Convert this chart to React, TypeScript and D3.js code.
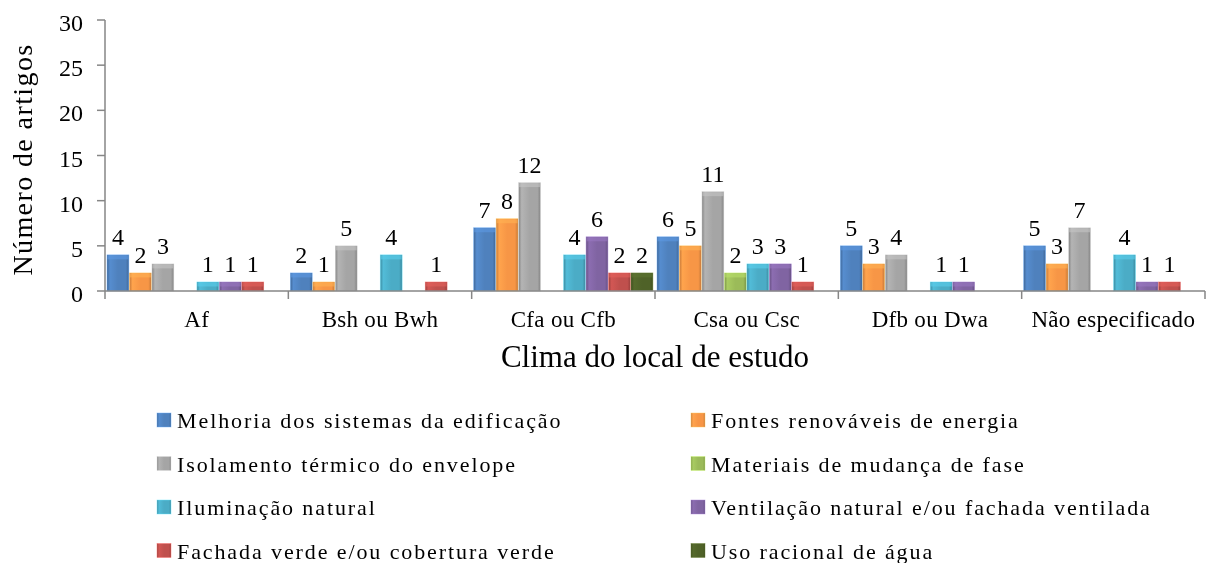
import React from "react";
import * as d3 from "d3";

const categories = ["Af", "Bsh ou Bwh", "Cfa ou Cfb", "Csa ou Csc", "Dfb ou Dwa", "Não especificado"];
const seriesNames = [
  "Melhoria dos sistemas da edificação",
  "Fontes renováveis de energia",
  "Isolamento térmico do envelope",
  "Materiais de mudança de fase",
  "Iluminação natural",
  "Ventilação natural e/ou fachada ventilada",
  "Fachada verde e/ou cobertura verde",
  "Uso racional de água",
];
const seriesColors = ["#4F81BD", "#F79646", "#A5A5A5", "#9BBB59", "#4BACC6", "#8064A2", "#C0504D", "#4F6228"];
// values[series][category]
const melhoria = [4, 2, 7, 6, 5, 5];
const fontes = [2, 1, 8, 5, 3, 3];
const isolamento = [3, 5, 12, 11, 4, 7];
const materiais = [0, 0, 0, 2, 0, 0];
const iluminacao = [1, 4, 4, 3, 1, 4];
const ventilacao = [1, 0, 6, 3, 1, 1];
const fachadaVerde = [1, 1, 2, 1, 0, 1];
const usoAgua = [0, 0, 2, 0, 0, 0];
const seriesValues = [melhoria, fontes, isolamento, materiais, iluminacao, ventilacao, fachadaVerde, usoAgua];
const yTicks = [0, 5, 10, 15, 20, 25, 30];

const W = 1210;
const H = 563;
const plotLeft = 105;
const plotRight = 1205;
const plotTop = 20;
const plotBottom = 291;
const FF = "Liberation Serif";
const axisColor = "#868686";

export default function App() {
  const x0 = d3.scaleBand<string>().domain(categories).range([plotLeft, plotRight]).padding(0);
  const x1 = d3
    .scaleBand<number>()
    .domain(d3.range(seriesNames.length))
    .range([2, x0.bandwidth() - 1.5])
    .padding(0);
  const y = d3.scaleLinear().domain([0, 30]).range([plotBottom, plotTop]);
  const barW = x1.bandwidth() - 0.6;

  const boundaries = categories.map((c) => x0(c)!).concat([plotRight]);

  return (
    <svg width={W} height={H} style={{ position: "fixed", left: 0, top: 0 }}>
      <defs>
        {seriesColors.map((c, i) => {
          const base = d3.color(c)!;
          const dark = base.darker(0.6).formatHex();
          const light = base.brighter(0.25).formatHex();
          return (
            <linearGradient key={i} id={`gh${i}`} x1="0" x2="1" y1="0" y2="0">
              <stop offset="0%" stopColor={dark} />
              <stop offset="14%" stopColor={light} />
              <stop offset="50%" stopColor={c} />
              <stop offset="86%" stopColor={c} />
              <stop offset="100%" stopColor={dark} />
            </linearGradient>
          );
        })}
      </defs>

      {/* Y axis */}
      <line x1={plotLeft} x2={plotLeft} y1={plotTop} y2={plotBottom} stroke={axisColor} strokeWidth={1.5} />
      {yTicks.map((t) => (
        <g key={t}>
          <line x1={plotLeft - 8} x2={plotLeft} y1={y(t)} y2={y(t)} stroke={axisColor} strokeWidth={1.5} />
          <text x={plotLeft - 22} y={y(t) + 11} textAnchor="end" fontFamily={FF} fontSize={24} fill="#000">
            {t}
          </text>
        </g>
      ))}

      {/* Bars */}
      {categories.map((cat, ci) => (
        <g key={cat}>
          {seriesValues.map((vals, si) => {
            const v = vals[ci];
            if (!v) return null;
            const bx = x0(cat)! + x1(si)!;
            const by = y(v);
            const bh = plotBottom - by;
            const c = d3.color(seriesColors[si])!;
            return (
              <g key={si}>
                <rect x={bx} y={by} width={barW} height={bh} fill={`url(#gh${si})`} />
                <rect
                  x={bx + 0.5}
                  y={by + 0.5}
                  width={barW - 1}
                  height={Math.min(4, bh - 1)}
                  fill={c.brighter(0.5).formatHex()}
                  opacity={0.6}
                />
                <rect
                  x={bx}
                  y={by}
                  width={barW}
                  height={bh}
                  fill="none"
                  stroke={c.brighter(0.8).formatHex()}
                  strokeWidth={0.6}
                  opacity={0.7}
                />
                <text x={bx + barW / 2} y={by - 10} textAnchor="middle" fontFamily={FF} fontSize={24} fill="#000">
                  {v}
                </text>
              </g>
            );
          })}
        </g>
      ))}

      {/* X axis */}
      <line x1={plotLeft} x2={plotRight} y1={plotBottom} y2={plotBottom} stroke={axisColor} strokeWidth={1.5} />
      {boundaries.map((bx, i) => (
        <line key={i} x1={bx} x2={bx} y1={plotBottom} y2={plotBottom + 8} stroke={axisColor} strokeWidth={1.5} />
      ))}
      {categories.map((cat) => (
        <text
          key={cat}
          x={x0(cat)! + x0.bandwidth() / 2}
          y={327}
          textAnchor="middle"
          fontFamily={FF}
          fontSize={23}
          letterSpacing={0.3}
          fill="#000"
        >
          {cat}
        </text>
      ))}

      {/* Axis titles */}
      <text x={(plotLeft + plotRight) / 2} y={367} textAnchor="middle" fontFamily={FF} fontSize={31} fill="#000">
        Clima  do local de estudo
      </text>
      <text
        transform={`translate(32, ${(plotTop + plotBottom) / 2 + 4}) rotate(-90)`}
        textAnchor="middle"
        fontFamily={FF}
        fontSize={28}
        letterSpacing={1.4}
        fill="#000"
      >
        Número de artigos
      </text>

      {/* Legend */}
      {seriesNames.map((name, i) => {
        const col = i % 2;
        const row = Math.floor(i / 2);
        const lx = col === 0 ? 157 : 691;
        const baseY = 428 + row * 43.5;
        return (
          <g key={name}>
            <rect x={lx} y={baseY - 15} width={14} height={14} fill={`url(#gh${i})`} />
            <rect
              x={lx}
              y={baseY - 15}
              width={14}
              height={14}
              fill="none"
              stroke={d3.color(seriesColors[i])!.brighter(0.8).formatHex()}
              strokeWidth={0.6}
              opacity={0.7}
            />
            <text x={lx + 20} y={baseY} fontFamily={FF} fontSize={22} letterSpacing={1.9} fill="#000">
              {name}
            </text>
          </g>
        );
      })}
    </svg>
  );
}
